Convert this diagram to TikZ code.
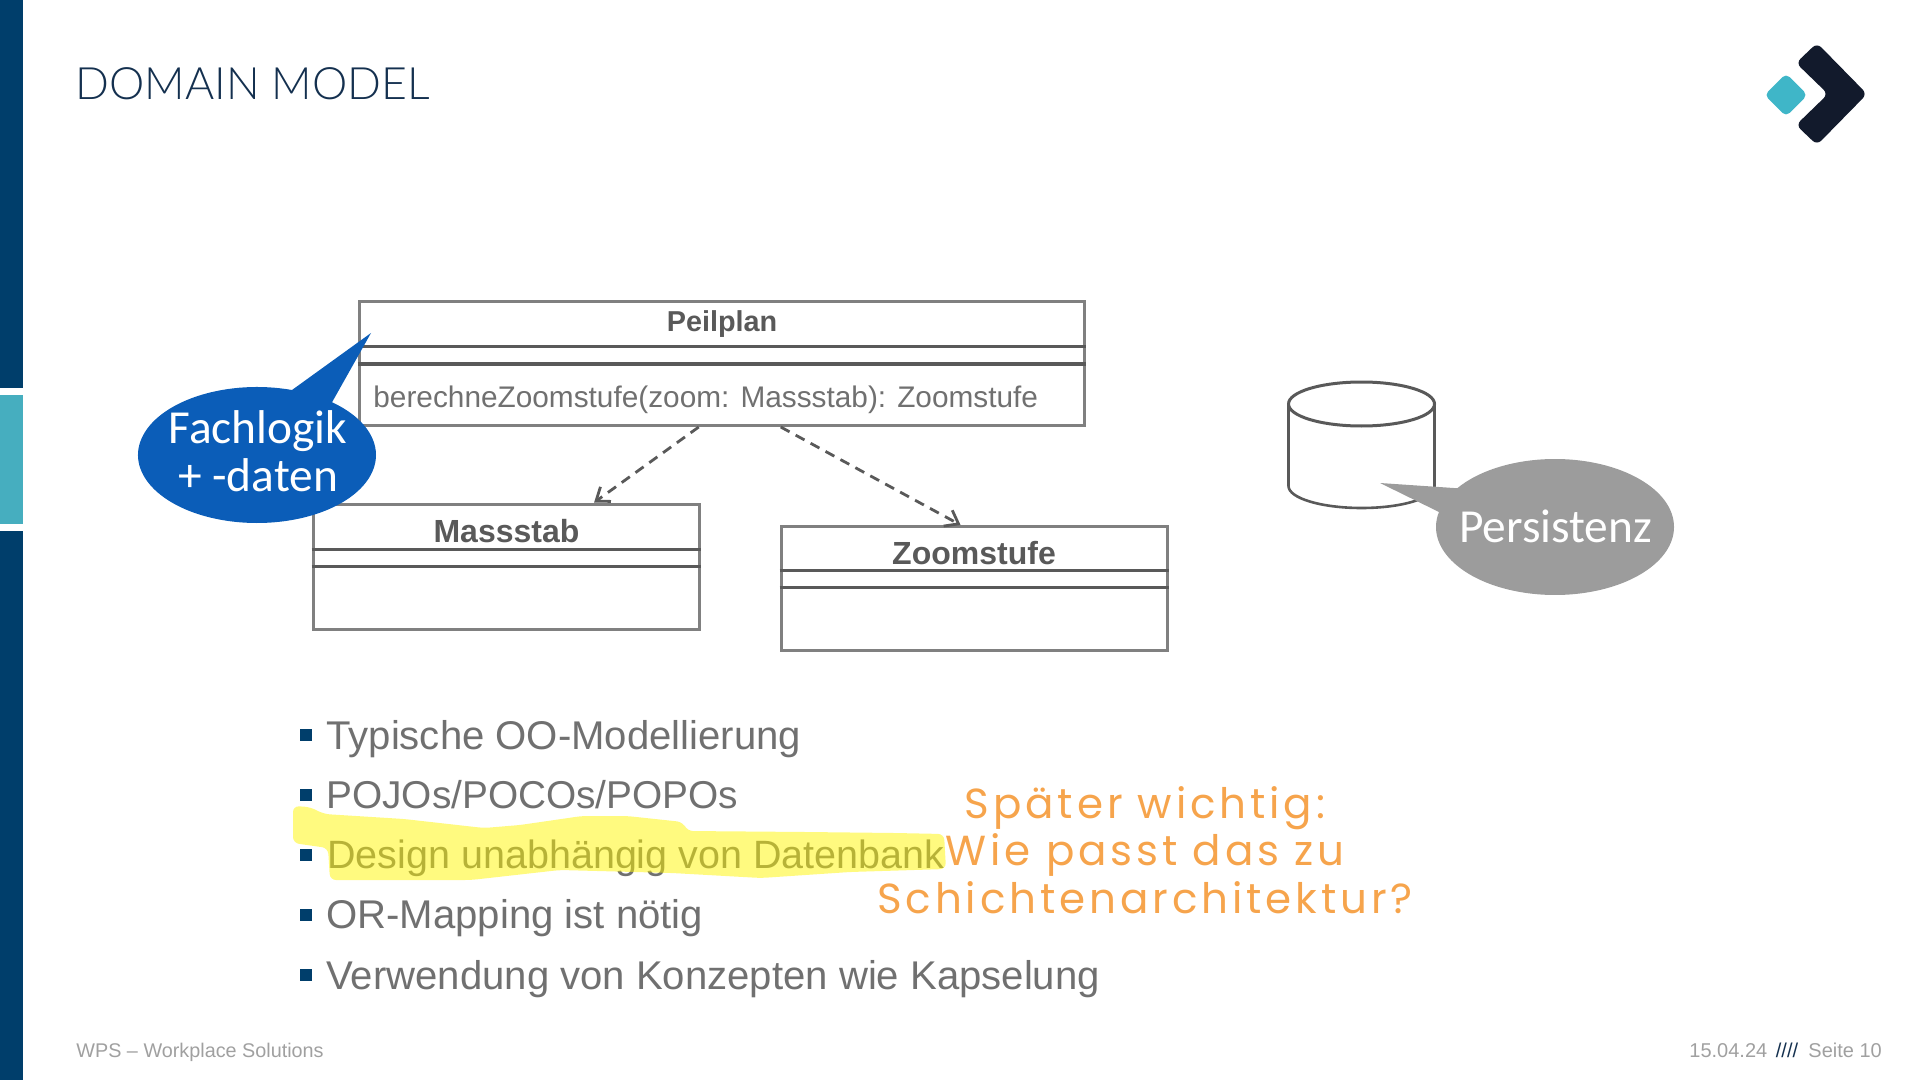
\documentclass[tikz,border=0pt]{standalone}
\usepackage{fontspec}
\setmainfont{Liberation Sans}
\newfontfamily\calloutfont{Carlito}
\newfontfamily\titlefont{Lato Light}
\newfontfamily\notefont[LetterSpace=9.3]{Poppins}
\usetikzlibrary{arrows.meta,shapes.callouts}
\definecolor{navy}{HTML}{003E6B}
\definecolor{teal}{HTML}{46AEBF}
\definecolor{titleblue}{HTML}{14304F}
\definecolor{logodark}{HTML}{121A2C}
\definecolor{logoteal}{HTML}{3FB6C8}
\definecolor{boxgrey}{HTML}{808080}
\definecolor{linegrey}{HTML}{595959}
\definecolor{textgrey}{HTML}{707070}
\definecolor{footgrey}{HTML}{A0A0A0}
\definecolor{fachblue}{HTML}{0B5DB8}
\definecolor{persgrey}{HTML}{9C9C9C}
\definecolor{marker}{HTML}{FFF500}
\definecolor{noteorange}{HTML}{F6A44C}
\tikzset{
  classbox/.style={draw=boxgrey,line width=1.5pt,rectangle},
  classline/.style={draw=linegrey,line width=1.5pt},
  classname/.style={anchor=base,inner sep=0pt,text=linegrey,font=\fontsize{16}{19}\selectfont\bfseries},
  depends/.style={->,>={Straight Barb[length=6pt,width=9pt]},draw=linegrey,line width=1.4pt,dash pattern=on 5pt off 3.5pt},
  listitem/.style={anchor=base west,inner sep=0pt,text=textgrey,font=\fontsize{20.05}{24}\selectfont},
  footer/.style={anchor=base west,inner sep=0pt,text=footgrey,font=\fontsize{10}{12}\selectfont},
  speech/.style={ellipse callout,callout pointer arc=22,inner sep=0pt},
  speechtext/.style={inner sep=0pt,text=white,align=center,font=\fontsize{23.7}{24}\calloutfont}
}
\begin{document}
\begin{tikzpicture}[x=.5pt,y=-.5pt]
\useasboundingbox (0,0) rectangle (1920,1080);

% side bars
\fill[navy] (0,0) rectangle (23,388);
\fill[teal] (0,395) rectangle (23,524);
\fill[navy] (0,531) rectangle (23,1080);

% title + logo
\node[anchor=base west,inner sep=0pt,text=titleblue,font=\fontsize{22.3}{30}\titlefont] (title) at (75,100) {DOMAIN MODEL};
\fill[logodark,rounded corners=3pt] (1796,63) -- (1817,43) -- (1867,94) -- (1817,145) -- (1796,125) -- (1828,94) -- cycle;
\fill[logoteal,rounded corners=2.5pt] (1786,73.5) -- (1807.5,95) -- (1786,116.5) -- (1764.5,95) -- cycle;

% classes
\node[classbox,minimum width=362.75pt,minimum height=61.75pt] (peilplan) at (721.75,363.75) {};
\draw[classline] (peilplan.west |- 0,347) -- (peilplan.east |- 0,347);
\draw[classline] (peilplan.west |- 0,364) -- (peilplan.east |- 0,364);
\node[classname,font=\fontsize{14.4}{17}\selectfont\bfseries] (peilname) at (722,332) {Peilplan};
\node[anchor=base west,inner sep=0pt,text=textgrey,font=\fontsize{14.9}{18}\selectfont] (peilop) at (373,407) {berechneZoomstufe(zoom: Massstab): Zoomstufe};

\node[classbox,minimum width=193pt,minimum height=62.5pt] (massstab) at (506,566.5) {};
\draw[classline] (massstab.west |- 0,549) -- (massstab.east |- 0,549);
\draw[classline] (massstab.west |- 0,566) -- (massstab.east |- 0,566);
\node[classname] (massname) at (506.5,542) {Massstab};

\node[classbox,minimum width=193pt,minimum height=61.75pt] (zoomstufe) at (974,588.25) {};
\draw[classline] (zoomstufe.west |- 0,570.5) -- (zoomstufe.east |- 0,570.5);
\draw[classline] (zoomstufe.west |- 0,587.5) -- (zoomstufe.east |- 0,587.5);
\node[classname] (zoomname) at (974,564) {Zoomstufe};

\draw[depends] (peilplan.-110) -- (massstab.36);
\draw[depends] (peilplan.-47) -- (zoomstufe.102);

% database
\draw[linegrey,line width=1.3pt] (1288.5,404) -- (1288.5,486) arc[start angle=180,end angle=0,x radius=73,y radius=22] -- (1434.5,404);
\draw[linegrey,line width=1.5pt] (1361.5,404) ellipse[x radius=73,y radius=22];

% callouts
\node[speech,fill=fachblue,minimum width=119pt,minimum height=68pt,callout absolute pointer={(371,333)}] (fachlogik) at (257,455) {};
\node[speechtext] (fachtext) at (258,451) {Fachlogik\\+ -daten};
\node[speech,fill=persgrey,minimum width=119pt,minimum height=68pt,callout absolute pointer={(1380,483)}] (persistenz) at (1555,527) {};
\node[speechtext] (perstext) at (1555.5,526) {Persistenz};

% list
\node[listitem] (item1) at (326,749) {Typische OO-Modellierung};
\node[listitem,font=\fontsize{19.4}{24}\selectfont] (item2) at (326,808) {POJOs/POCOs/POPOs};
\node[listitem,font=\fontsize{19.75}{24}\selectfont] (item3) at (327,868.5) {Design unabhängig von Datenbank};
\node[listitem] (item4) at (326,928.5) {OR-Mapping ist nötig};
\node[listitem] (item5) at (326,989) {Verwendung von Konzepten wie Kapselung};
\foreach \ypos in {735,795,854.5,914.5,975}
  \fill[navy] (300,\ypos-6) rectangle (312,\ypos+6);

% marker stroke
\fill[marker,opacity=.5,rounded corners=3pt] (293,806) -- (310,807) -- (324,814) -- (404,819) -- (484,828) -- (520,825) -- (582,816) -- (627,816) -- (683,822) -- (687,831) -- (806,832) -- (895,833) -- (944,834) -- (946,869) -- (850,872) -- (761,878) -- (672,873) -- (560,870) -- (471,880) -- (330,880) -- (328,848) -- (293,843) -- cycle;

% handwritten note
\node[inner sep=0pt,text=noteorange,font=\fontsize{21}{23.7}\notefont,align=center] (note) at (1145,850) {Später wichtig:\\Wie passt das zu\\Schichtenarchitektur?};

% footer
\node[footer,font=\fontsize{9.9}{12}\selectfont] (footleft) at (76,1057.5) {WPS – Workplace Solutions};
\node[footer] (footdate) at (1689,1057) {15.04.24};
\node[footer,text=titleblue] (footsep) at (1775.5,1057) {////};
\node[footer] (footpage) at (1808,1057) {Seite 10};
\end{tikzpicture}
\end{document}
